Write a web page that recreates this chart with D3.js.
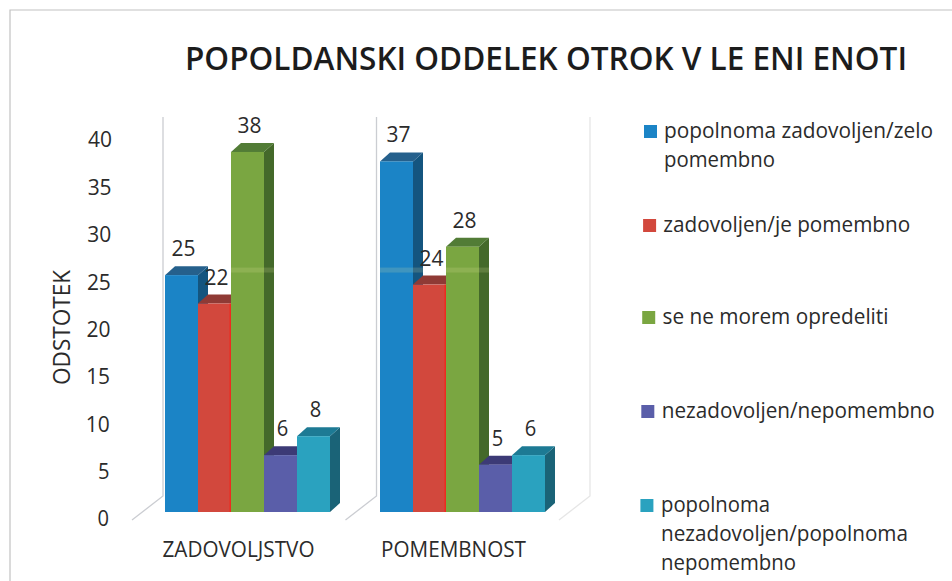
<!DOCTYPE html>
<html>
<head>
<meta charset="utf-8">
<script src="https://cdn.jsdelivr.net/npm/d3@7"></script>
<style>
html, body { margin: 0; padding: 0; background: #fff; }
svg { display: block; }
text { font-family: "Open Sans", sans-serif; fill: #2b2b2b; }
</style>
</head>
<body>
<svg id="chart" width="952" height="581"></svg>
<script>
var categories = ["ZADOVOLJSTVO", "POMEMBNOST"];
var seriesNames = [
  "popolnoma zadovoljen/zelo pomembno",
  "zadovoljen/je pomembno",
  "se ne morem opredeliti",
  "nezadovoljen/nepomembno",
  "popolnoma nezadovoljen/popolnoma nepomembno"
];
// one array per series: ZADOVOLJSTVO, POMEMBNOST
var series1 = [25, 37];
var series2 = [22, 24];
var series3 = [38, 28];
var series4 = [6, 5];
var series5 = [8, 6];
var allSeries = [series1, series2, series3, series4, series5];
var yTicks = [0, 5, 10, 15, 20, 25, 30, 35, 40];

var legendLines = [
  ["popolnoma zadovoljen/zelo", "pomembno"],
  ["zadovoljen/je pomembno"],
  ["se ne morem opredeliti"],
  ["nezadovoljen/nepomembno"],
  ["popolnoma", "nezadovoljen/popolnoma", "nepomembno"]
];
var legendBaselines = [[138, 167], [232], [324], [418], [512, 541, 570]];
var legendWidths = [[269, 111], [247], [226], [273], [109, 247, 135]];

var frontColors = ["#1b84c6", "#d2483d", "#7aa641", "#5a5ea9", "#2aa2bf"];
var topColors = ["#25608c", "#8f3a35", "#527c36", "#3c3a76", "#1d7a94"];
var sideColors = ["#14557f", "#7e2f2b", "#44692a", "#33336a", "#1a6377"];
var depthX = 10, depthY = 9;

var svg = d3.select("#chart");

var x0 = d3.scaleBand().domain(categories).range([165, 545]).paddingInner(50 / 215).paddingOuter(0);
var x1 = d3.scaleBand().domain(d3.range(seriesNames.length)).range([0, x0.bandwidth()]);
var y = d3.scaleLinear().domain([0, 40]).range([512, 133]);

// page frame
svg.append("path")
  .attr("d", "M10,581V10H952")
  .attr("fill", "none")
  .attr("stroke", "#c2c2c2")
  .attr("stroke-width", 1.2);

// back walls and floor edges of the 3d box
d3.range(3).forEach(function(i) {
  var wx = 163 + i * 213.5;
  svg.append("path")
    .attr("d", "M" + wx + "," + (y(0) - 16 - 379) + "V" + (y(0) - 16) + "L" + (wx - 31) + "," + (y(0) + 8))
    .attr("fill", "none")
    .attr("stroke", i == 2 ? "#e6e6e6" : "#cbcdd2")
    .attr("stroke-width", 1.3);
});

// title
svg.append("text")
  .attr("x", 185).attr("y", 70)
  .attr("textLength", 722).attr("lengthAdjust", "spacingAndGlyphs")
  .style("font-size", "32px").style("font-weight", 600)
  .style("fill", "#1c1c1c")
  .text("POPOLDANSKI ODDELEK OTROK V LE ENI ENOTI");

// y axis, labels lean a little because of the 3d view
var yAxis = svg.append("g")
  .attr("transform", "translate(109,7)")
  .call(d3.axisLeft(y).tickValues(yTicks).tickSize(0).tickPadding(0));
yAxis.select(".domain").remove();
yAxis.selectAll("text")
  .attr("dx", function(d) { return d * 0.075; })
  .attr("textLength", function(d) { return d < 10 ? 11.5 : 24; })
  .attr("lengthAdjust", "spacingAndGlyphs")
  .style("font-size", "21.5px")
  .style("font-family", "'Open Sans', sans-serif");

svg.append("text")
  .attr("transform", "translate(70,385) rotate(-90)")
  .attr("textLength", 115).attr("lengthAdjust", "spacingAndGlyphs")
  .style("font-size", "23px")
  .text("ODSTOTEK");

// x axis
var xAxis = svg.append("g")
  .attr("transform", "translate(-9,538)")
  .call(d3.axisBottom(x0).tickSize(0).tickPadding(0));
xAxis.select(".domain").remove();
xAxis.selectAll("text")
  .attr("y", 19).attr("dy", 0)
  .attr("textLength", function(d) { return d == "ZADOVOLJSTVO" ? 152 : 145; })
  .attr("lengthAdjust", "spacingAndGlyphs")
  .style("font-size", "21px")
  .style("font-family", "'Open Sans', sans-serif");

// bars, left to right so each one covers the side of the one before
categories.forEach(function(cat, c) {
  allSeries.forEach(function(values, s) {
    var v = values[c];
    var left = x0(cat) + x1(s), right = left + x1.bandwidth();
    var top = y(v), base = y(0);
    var g = svg.append("g");

    g.append("polygon")
      .attr("points", [[right, top], [right + depthX, top - depthY], [right + depthX, base - depthY], [right, base]].join(" "))
      .attr("fill", sideColors[s]);
    g.append("polygon")
      .attr("points", [[left, top], [left + depthX, top - depthY], [right + depthX, top - depthY], [right, top]].join(" "))
      .attr("fill", topColors[s]);
    g.append("rect")
      .attr("x", left).attr("y", top)
      .attr("width", x1.bandwidth()).attr("height", base - top)
      .attr("fill", frontColors[s]);

    // red bars have a bright edge on the right
    if (s == 1) {
      g.append("rect")
        .attr("x", right - 1.5).attr("y", top)
        .attr("width", 1.5).attr("height", base - top)
        .attr("fill", "#ee2a20");
    }
    // pale scan band over the tall bars
    if (v > 26) {
      g.append("rect")
        .attr("x", left).attr("y", y(25.8))
        .attr("width", x1.bandwidth() + depthX).attr("height", 5)
        .attr("fill", "#e6e6a0").attr("opacity", 0.18);
    }
  });
});

// value labels go last, they sit on top of the bars
categories.forEach(function(cat, c) {
  allSeries.forEach(function(values, s) {
    svg.append("text")
      .attr("x", x0(cat) + x1(s) + x1.bandwidth() / 2 + 2)
      .attr("y", y(values[c]) - 19)
      .attr("text-anchor", "middle")
      .attr("textLength", values[c] < 10 ? 11.5 : 24)
      .attr("lengthAdjust", "spacingAndGlyphs")
      .style("font-size", "21.5px")
      .text(values[c]);
  });
});

// legend
seriesNames.forEach(function(name, s) {
  var first = legendBaselines[s][0];
  var shift = (first - 138) * 0.008;
  svg.append("rect")
    .attr("x", 644 - shift * 1.2).attr("y", first - 13)
    .attr("width", 13).attr("height", 13)
    .attr("fill", frontColors[s]);
  legendLines[s].forEach(function(line, l) {
    svg.append("text")
      .attr("x", 664 - shift).attr("y", legendBaselines[s][l])
      .attr("textLength", legendWidths[s][l]).attr("lengthAdjust", "spacingAndGlyphs")
      .style("font-size", "22px")
      .text(line);
  });
});
</script>
</body>
</html>
